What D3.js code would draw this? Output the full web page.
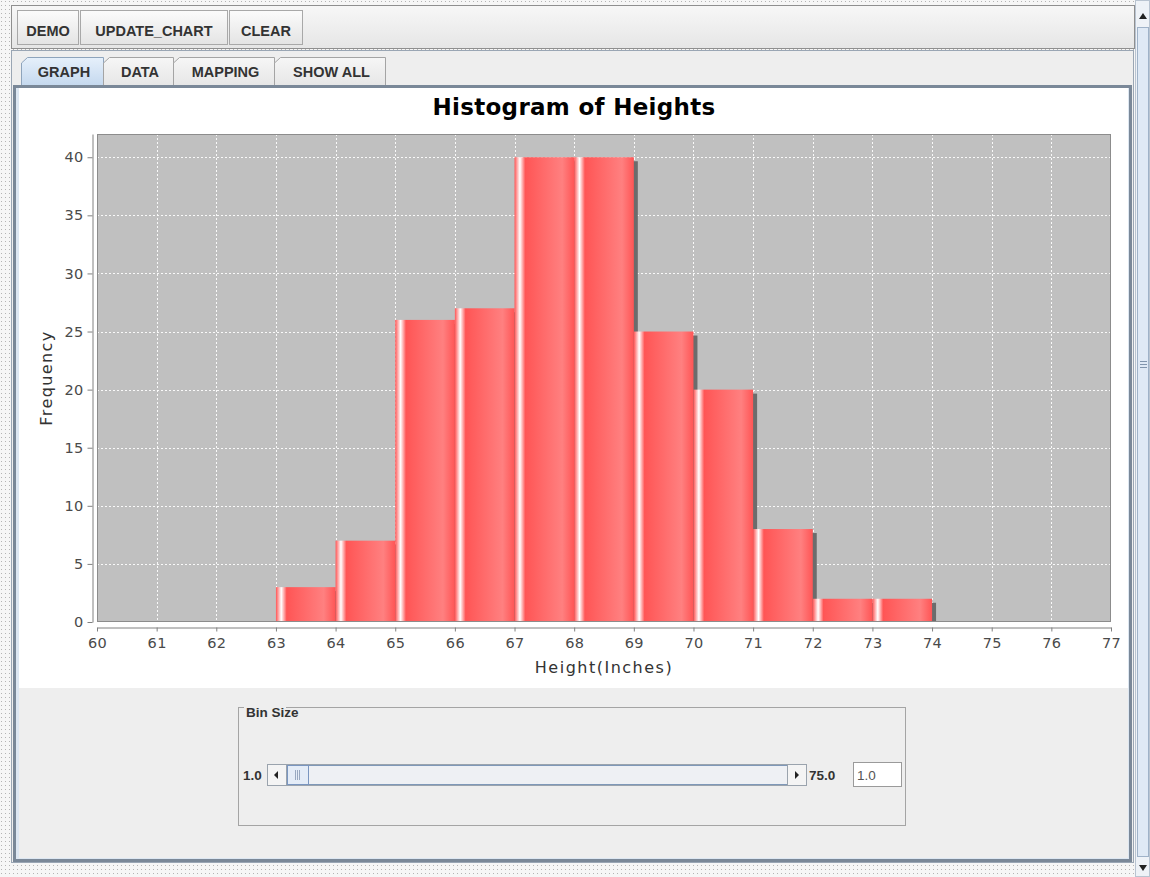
<!DOCTYPE html>
<html>
<head>
<meta charset="utf-8">
<script src="https://cdn.jsdelivr.net/npm/d3@7"></script>
<style>
  body { margin: 0; background: #eeeeee; overflow: hidden; }
  svg { display: block; }
</style>
</head>
<body>
<svg id="app" width="1150" height="877"></svg>
<script>
// ---- data ----
const binStarts   = [63, 64, 65, 66, 67, 68, 69, 70, 71, 72, 73];
const frequencies = [3, 7, 26, 27, 40, 40, 25, 20, 8, 2, 2];
const binWidth = 1;
const xTickValues = [60, 61, 62, 63, 64, 65, 66, 67, 68, 69, 70, 71, 72, 73, 74, 75, 76, 77];
const yTickValues = [0, 5, 10, 15, 20, 25, 30, 35, 40];
const chartTitle = "Histogram of Heights";
const xAxisLabel = "Height(Inches)";
const yAxisLabel = "Frequency";
const toolbarButtons = ["DEMO", "UPDATE_CHART", "CLEAR"];
const tabLabels = ["GRAPH", "DATA", "MAPPING", "SHOW ALL"];
const sliderTitle = "Bin Size";
const sliderMinLabel = "1.0";
const sliderMaxLabel = "75.0";
const sliderValue = "1.0";

const bins = binStarts.map((s, i) => ({ x0: s, x1: s + binWidth, count: frequencies[i] }));

const svg = d3.select("#app");
const defs = svg.append("defs");

// dotted desktop pattern around the window
const dots = defs.append("pattern").attr("id", "dots")
  .attr("width", 4).attr("height", 4).attr("patternUnits", "userSpaceOnUse");
dots.append("rect").attr("width", 4).attr("height", 4).attr("fill", "#f6f6f6");
dots.append("rect").attr("x", 1).attr("y", 1).attr("width", 1).attr("height", 1).attr("fill", "#b4b4b4");

function vGrad(id, stops) {
  const g = defs.append("linearGradient").attr("id", id)
    .attr("x1", 0).attr("y1", 0).attr("x2", 0).attr("y2", 1);
  stops.forEach(([o, c]) => g.append("stop").attr("offset", o).attr("stop-color", c));
}
vGrad("toolbarGrad", [[0, "#f7f7f7"], [1, "#e6e6e6"]]);
vGrad("btnGrad", [[0, "#fbfbfb"], [1, "#e4e4e4"]]);
vGrad("tabSel", [[0, "#e6f0fb"], [1, "#c4d8ee"]]);
vGrad("tabOff", [[0, "#f6f6f6"], [1, "#e6e6e6"]]);

// bar paint: base -> white highlight -> base -> lighter -> base
const barGrad = defs.append("linearGradient").attr("id", "barGrad")
  .attr("x1", 0).attr("y1", 0).attr("x2", 1).attr("y2", 0);
[[0, "#ff5555"], [0.09, "#ffffff"], [0.18, "#ff5555"], [0.8, "#ff8080"], [1, "#ff5555"]]
  .forEach(([o, c]) => barGrad.append("stop").attr("offset", o).attr("stop-color", c));

// ---- window chrome ----
svg.append("rect").attr("width", 1150).attr("height", 877).attr("fill", "url(#dots)");

// toolbar
svg.append("rect").attr("x", 11.5).attr("y", 5.5).attr("width", 1123).attr("height", 43)
  .attr("fill", "url(#toolbarGrad)").attr("stroke", "#8f8f8f");
const btnLayout = [[17, 61], [80, 147], [229, 73]];
toolbarButtons.forEach((label, i) => {
  const [bx, bw] = btnLayout[i];
  svg.append("rect").attr("x", bx + 0.5).attr("y", 10.5).attr("width", bw).attr("height", 34)
    .attr("fill", "url(#btnGrad)").attr("stroke", "#a8a8a8");
  svg.append("text").attr("x", bx + bw / 2 + 0.5).attr("y", 36)
    .attr("text-anchor", "middle")
    .attr("font-family", "'Liberation Sans', Arial, sans-serif").attr("font-weight", "bold")
    .attr("font-size", 14.5).attr("fill", "#333").text(label);
});

// tabbed pane
svg.append("rect").attr("x", 11.5).attr("y", 50.5).attr("width", 1122).attr("height", 812)
  .attr("fill", "#eeeeee").attr("stroke", "#9aa6b4");
const tabLayout = [[21, 103], [103, 173], [173, 274], [274, 385]];
tabLabels.forEach((label, i) => {
  const [t0, t1] = tabLayout[i];
  const top = 57;
  const p = `M${t0 + 0.5},86 L${t0 + 0.5},${top + 6} L${t0 + 6.5},${top + 0.5} L${t1 + 0.5},${top + 0.5} L${t1 + 0.5},86`;
  svg.append("path").attr("d", p)
    .attr("fill", i === 0 ? "url(#tabSel)" : "url(#tabOff)")
    .attr("stroke", i === 0 ? "#8ea4bc" : "#a4a4a4");
  svg.append("text").attr("x", (t0 + t1) / 2 + 2).attr("y", 77)
    .attr("text-anchor", "middle")
    .attr("font-family", "'Liberation Sans', Arial, sans-serif").attr("font-weight", "bold")
    .attr("font-size", 14.5).attr("fill", "#333").text(label);
});

// content panel of the selected tab
svg.append("rect").attr("x", 13).attr("y", 85).attr("width", 1119).attr("height", 777)
  .attr("fill", "#dde7f2");
svg.append("rect").attr("x", 14.5).attr("y", 86.5).attr("width", 1116).attr("height", 774)
  .attr("fill", "none").attr("stroke", "#7a8898").attr("stroke-width", 3);
svg.append("rect").attr("x", 19).attr("y", 88).attr("width", 1109).attr("height", 600).attr("fill", "#ffffff");
svg.append("rect").attr("x", 19).attr("y", 688).attr("width", 1109).attr("height", 170).attr("fill", "#eeeeee");

// vertical scrollbar on the right
svg.append("rect").attr("x", 1135.5).attr("y", 0.5).attr("width", 14).attr("height", 876)
  .attr("fill", "#eef2f7").attr("stroke", "#b9c4d1");
svg.append("rect").attr("x", 1137.5).attr("y", 27.5).attr("width", 11).attr("height", 829)
  .attr("fill", "#dfe9f5").attr("stroke", "#9fb2c8");
[361, 364, 367].forEach(gy => svg.append("line").attr("x1", 1140).attr("x2", 1147)
  .attr("y1", gy + 0.5).attr("y2", gy + 0.5).attr("stroke", "#8195ad"));
svg.append("path").attr("d", "M1139,19 L1143,13 L1147,19 Z").attr("fill", "#222");
svg.append("path").attr("d", "M1139,865 L1143,871 L1147,865 Z").attr("fill", "#222");

// ---- chart ----
const plot = { left: 97, right: 1111, top: 134, bottom: 622 };
const x = d3.scaleLinear().domain([60, 77]).range([plot.left, plot.right]);
const y = d3.scaleLinear().domain([0, 42]).range([plot.bottom, plot.top]);

svg.append("text").attr("x", 574).attr("y", 115).attr("text-anchor", "middle")
  .attr("font-family", "'DejaVu Sans', Verdana, sans-serif").attr("font-weight", "bold")
  .attr("font-size", 23).attr("letter-spacing", 0.3).attr("fill", "#000").text(chartTitle);

svg.append("rect").attr("x", plot.left).attr("y", plot.top)
  .attr("width", plot.right - plot.left).attr("height", plot.bottom - plot.top)
  .attr("fill", "#c0c0c0");

const grid = svg.append("g").attr("stroke", "#ffffff").attr("stroke-dasharray", "2,2")
  .attr("stroke-opacity", 0.9);
grid.selectAll("line.v").data(xTickValues.slice(1, -1)).join("line").attr("class", "v")
  .attr("x1", d => Math.round(x(d)) + 0.5).attr("x2", d => Math.round(x(d)) + 0.5)
  .attr("y1", plot.top).attr("y2", plot.bottom);
grid.selectAll("line.h").data(yTickValues.slice(1)).join("line").attr("class", "h")
  .attr("y1", d => Math.round(y(d)) + 0.5).attr("y2", d => Math.round(y(d)) + 0.5)
  .attr("x1", plot.left).attr("x2", plot.right);

defs.append("clipPath").attr("id", "plotClip").append("rect")
  .attr("x", plot.left).attr("y", plot.top)
  .attr("width", plot.right - plot.left).attr("height", plot.bottom - plot.top);

const barsG = svg.append("g").attr("clip-path", "url(#plotClip)");
// shadows first, then bars on top
barsG.selectAll("rect.shadow").data(bins).join("rect").attr("class", "shadow")
  .attr("x", d => x(d.x0) + 4).attr("y", d => y(d.count) + 4)
  .attr("width", d => x(d.x1) - x(d.x0)).attr("height", d => y(0) - y(d.count))
  .attr("fill", "#6c6c6c");
barsG.selectAll("rect.bar").data(bins).join("rect").attr("class", "bar")
  .attr("x", d => x(d.x0)).attr("y", d => y(d.count))
  .attr("width", d => x(d.x1) - x(d.x0)).attr("height", d => y(0) - y(d.count))
  .attr("fill", "url(#barGrad)");

svg.append("rect").attr("x", plot.left + 0.5).attr("y", plot.top + 0.5)
  .attr("width", plot.right - plot.left - 1).attr("height", plot.bottom - plot.top - 1)
  .attr("fill", "none").attr("stroke", "#8c8c8c");

// axes
const yAxis = d3.axisLeft(y).tickValues(yTickValues).tickSize(5).tickSizeOuter(0).tickPadding(4);
const xAxis = d3.axisBottom(x).tickValues(xTickValues).tickSize(4).tickSizeOuter(0).tickPadding(6);

function styleAxis(g) {
  g.select(".domain").attr("stroke", "#808080");
  g.selectAll(".tick line").attr("stroke", "#808080");
  g.selectAll(".tick text").attr("fill", "#4a4a4a")
    .attr("font-family", "'DejaVu Sans', Verdana, sans-serif").attr("font-size", 14.5)
    .attr("letter-spacing", 0.3);
}
svg.append("g").attr("transform", "translate(92.5,0)").call(yAxis).call(styleAxis);
svg.append("g").attr("transform", "translate(0,627.5)").call(xAxis).call(styleAxis);

svg.append("text").attr("x", (plot.left + plot.right) / 2).attr("y", 673)
  .attr("text-anchor", "middle").attr("font-family", "'DejaVu Sans', Verdana, sans-serif")
  .attr("font-size", 16).attr("letter-spacing", 1.5).attr("fill", "#333").text(xAxisLabel);
svg.append("text").attr("transform", "translate(52,378) rotate(-90)")
  .attr("text-anchor", "middle").attr("font-family", "'DejaVu Sans', Verdana, sans-serif")
  .attr("font-size", 16).attr("letter-spacing", 1.4).attr("fill", "#333").text(yAxisLabel);

// ---- bin size control ----
const uiFont = "'Liberation Sans', Arial, sans-serif";
svg.append("rect").attr("x", 238.5).attr("y", 707.5).attr("width", 667).attr("height", 118)
  .attr("fill", "none").attr("stroke", "#a4a4a4");
svg.append("rect").attr("x", 244).attr("y", 700).attr("width", 42).attr("height", 14).attr("fill", "#eeeeee");
svg.append("text").attr("x", 246).attr("y", 717).attr("font-family", uiFont)
  .attr("font-weight", "bold").attr("font-size", 13.5).attr("fill", "#333").text(sliderTitle);

svg.append("text").attr("x", 243).attr("y", 780).attr("font-family", uiFont)
  .attr("font-weight", "bold").attr("font-size", 13.5).attr("fill", "#333").text(sliderMinLabel);
svg.append("text").attr("x", 809).attr("y", 780).attr("font-family", uiFont)
  .attr("font-weight", "bold").attr("font-size", 13.5).attr("fill", "#333").text(sliderMaxLabel);

// slider track
svg.append("rect").attr("x", 267.5).attr("y", 764.5).attr("width", 539).attr("height", 21)
  .attr("fill", "#eef0f4").attr("stroke", "#9aa3ad");
svg.append("line").attr("x1", 287).attr("x2", 787).attr("y1", 765.5).attr("y2", 765.5).attr("stroke", "#7f98b8");
svg.append("line").attr("x1", 287).attr("x2", 787).attr("y1", 784.5).attr("y2", 784.5).attr("stroke", "#7f98b8");
svg.append("rect").attr("x", 267.5).attr("y", 764.5).attr("width", 19).attr("height", 21)
  .attr("fill", "#f4f4f4").attr("stroke", "#9aa3ad");
svg.append("rect").attr("x", 787.5).attr("y", 764.5).attr("width", 19).attr("height", 21)
  .attr("fill", "#f4f4f4").attr("stroke", "#9aa3ad");
svg.append("path").attr("d", "M274,775 L278,771 L278,779 Z").attr("fill", "#222");
svg.append("path").attr("d", "M795,771 L799,775 L795,779 Z").attr("fill", "#222");
svg.append("rect").attr("x", 287.5).attr("y", 765.5).attr("width", 21).attr("height", 19)
  .attr("fill", "#e4ecf7").attr("stroke", "#7a96c0");
[295, 297, 299].forEach(gx => svg.append("line").attr("x1", gx + 0.5).attr("x2", gx + 0.5)
  .attr("y1", 770).attr("y2", 780).attr("stroke", "#98a8c0"));

// value field
svg.append("rect").attr("x", 853.5).attr("y", 762.5).attr("width", 48).attr("height", 24)
  .attr("fill", "#ffffff").attr("stroke", "#9a9a9a");
svg.append("text").attr("x", 857).attr("y", 780).attr("font-family", uiFont)
  .attr("font-size", 13.5).attr("fill", "#555").text(sliderValue);
</script>
</body>
</html>
